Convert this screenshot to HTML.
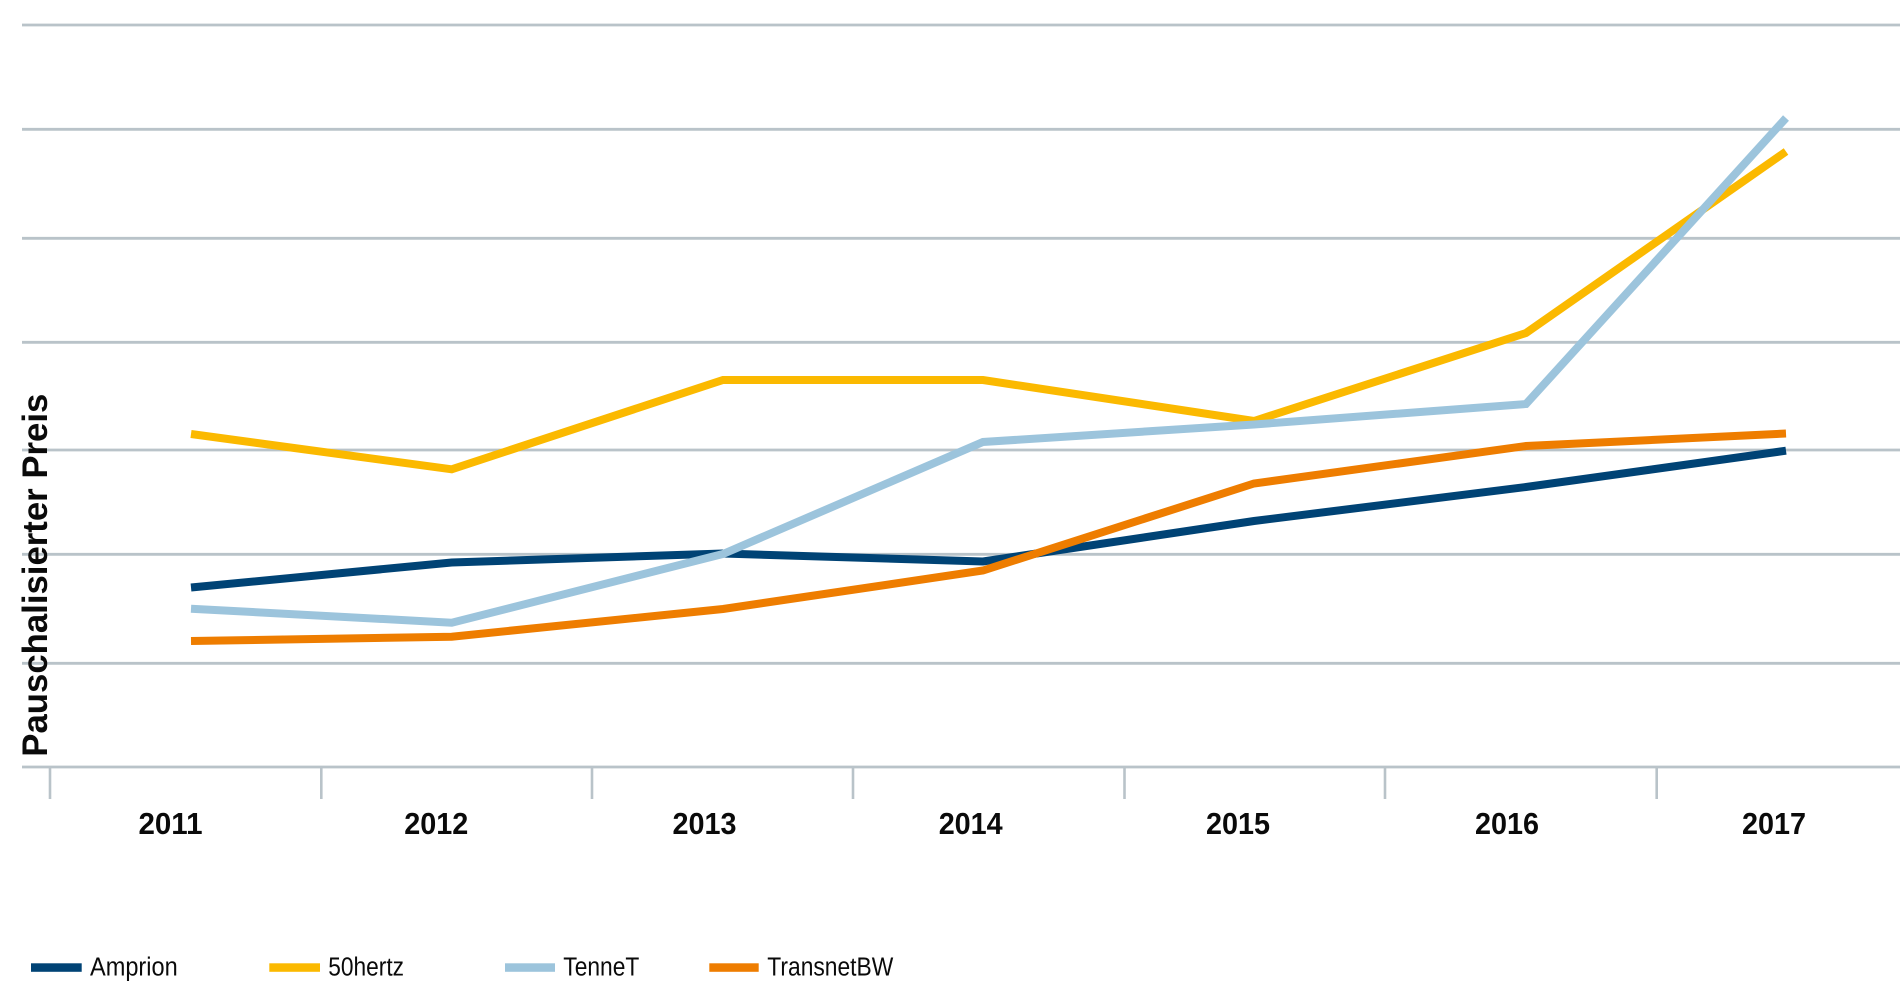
<!DOCTYPE html>
<html>
<head>
<meta charset="utf-8">
<style>
  html, body { margin: 0; padding: 0; background: #ffffff; }
  body { width: 1900px; height: 1000px; overflow: hidden; }
  svg { display: block; }
  text { font-family: "Liberation Sans", "DejaVu Sans", sans-serif; fill: #0a0a0a; }
</style>
</head>
<body>
<svg width="1900" height="1000" viewBox="0 0 1900 1000" xmlns="http://www.w3.org/2000/svg">
  <rect x="0" y="0" width="1900" height="1000" fill="#ffffff"/>
  <!-- gridlines -->
  <g stroke="#b9c3c9" stroke-width="2.8" fill="none">
    <line x1="22" y1="25" x2="1900" y2="25"/>
    <line x1="22" y1="129.3" x2="1900" y2="129.3"/>
    <line x1="22" y1="238.3" x2="1900" y2="238.3"/>
    <line x1="22" y1="342.3" x2="1900" y2="342.3"/>
    <line x1="22" y1="450" x2="1900" y2="450"/>
    <line x1="22" y1="554.3" x2="1900" y2="554.3"/>
    <line x1="22" y1="663.3" x2="1900" y2="663.3"/>
    <line x1="22" y1="767" x2="1900" y2="767"/>
  </g>
  <!-- ticks -->
  <g stroke="#b9c3c9" stroke-width="2.6" fill="none">
    <line x1="50" y1="767" x2="50" y2="799"/>
    <line x1="321.3" y1="767" x2="321.3" y2="799"/>
    <line x1="592" y1="767" x2="592" y2="799"/>
    <line x1="853" y1="767" x2="853" y2="799"/>
    <line x1="1124.5" y1="767" x2="1124.5" y2="799"/>
    <line x1="1385" y1="767" x2="1385" y2="799"/>
    <line x1="1656.7" y1="767" x2="1656.7" y2="799"/>
  </g>

  <!-- series -->
  <g fill="none" stroke-width="8" stroke-linejoin="miter" stroke-linecap="butt">
    <polyline stroke="#004375" points="191,587.5 451.7,562.5 723,553.5 983,561.5 1254,521 1526,487 1786,450.7"/>
    <polyline stroke="#fbb900" points="191,434 451.7,469.3 723,380 983,380 1254,421 1526,333 1786,151.5"/>
    <polyline stroke="#9cc4dc" points="191,608.7 451.7,622.7 723,554 983,442 1254,424.5 1526,404 1786,118"/>
    <polyline stroke="#ee7d00" points="191,641 451.7,636.7 723,609 983,570.5 1254,483.5 1526,446 1786,433.5"/>
  </g>

  <!-- x labels -->
  <g font-weight="bold" font-size="30.5" text-anchor="middle">
    <text x="170.5" y="834" textLength="64" lengthAdjust="spacingAndGlyphs">2011</text>
    <text x="436.3" y="834" textLength="64" lengthAdjust="spacingAndGlyphs">2012</text>
    <text x="704.5" y="834" textLength="64" lengthAdjust="spacingAndGlyphs">2013</text>
    <text x="970.7" y="834" textLength="64" lengthAdjust="spacingAndGlyphs">2014</text>
    <text x="1238" y="834" textLength="64" lengthAdjust="spacingAndGlyphs">2015</text>
    <text x="1507" y="834" textLength="64" lengthAdjust="spacingAndGlyphs">2016</text>
    <text x="1774" y="834" textLength="64" lengthAdjust="spacingAndGlyphs">2017</text>
  </g>

  <!-- y axis title -->
  <text transform="translate(46.8,756.7) rotate(-90)" x="0" y="0" font-weight="bold" font-size="35" textLength="363" lengthAdjust="spacingAndGlyphs">Pauschalisierter Preis</text>

  <!-- legend -->
  <rect x="31" y="963.3" width="50.7" height="8.5" fill="#004375"/>
  <text x="90" y="975.7" font-size="25.5" textLength="87.7" lengthAdjust="spacingAndGlyphs">Amprion</text>
  <rect x="269.3" y="963.3" width="50.7" height="8.5" fill="#fbb900"/>
  <text x="328.3" y="975.7" font-size="25.5" textLength="75.7" lengthAdjust="spacingAndGlyphs">50hertz</text>
  <rect x="505" y="963.3" width="50" height="8.5" fill="#9cc4dc"/>
  <text x="563.3" y="975.7" font-size="25.5" textLength="76" lengthAdjust="spacingAndGlyphs">TenneT</text>
  <rect x="709.3" y="963.3" width="49.4" height="8.5" fill="#ee7d00"/>
  <text x="767.3" y="975.7" font-size="25.5" textLength="126" lengthAdjust="spacingAndGlyphs">TransnetBW</text>
</svg>
</body>
</html>
